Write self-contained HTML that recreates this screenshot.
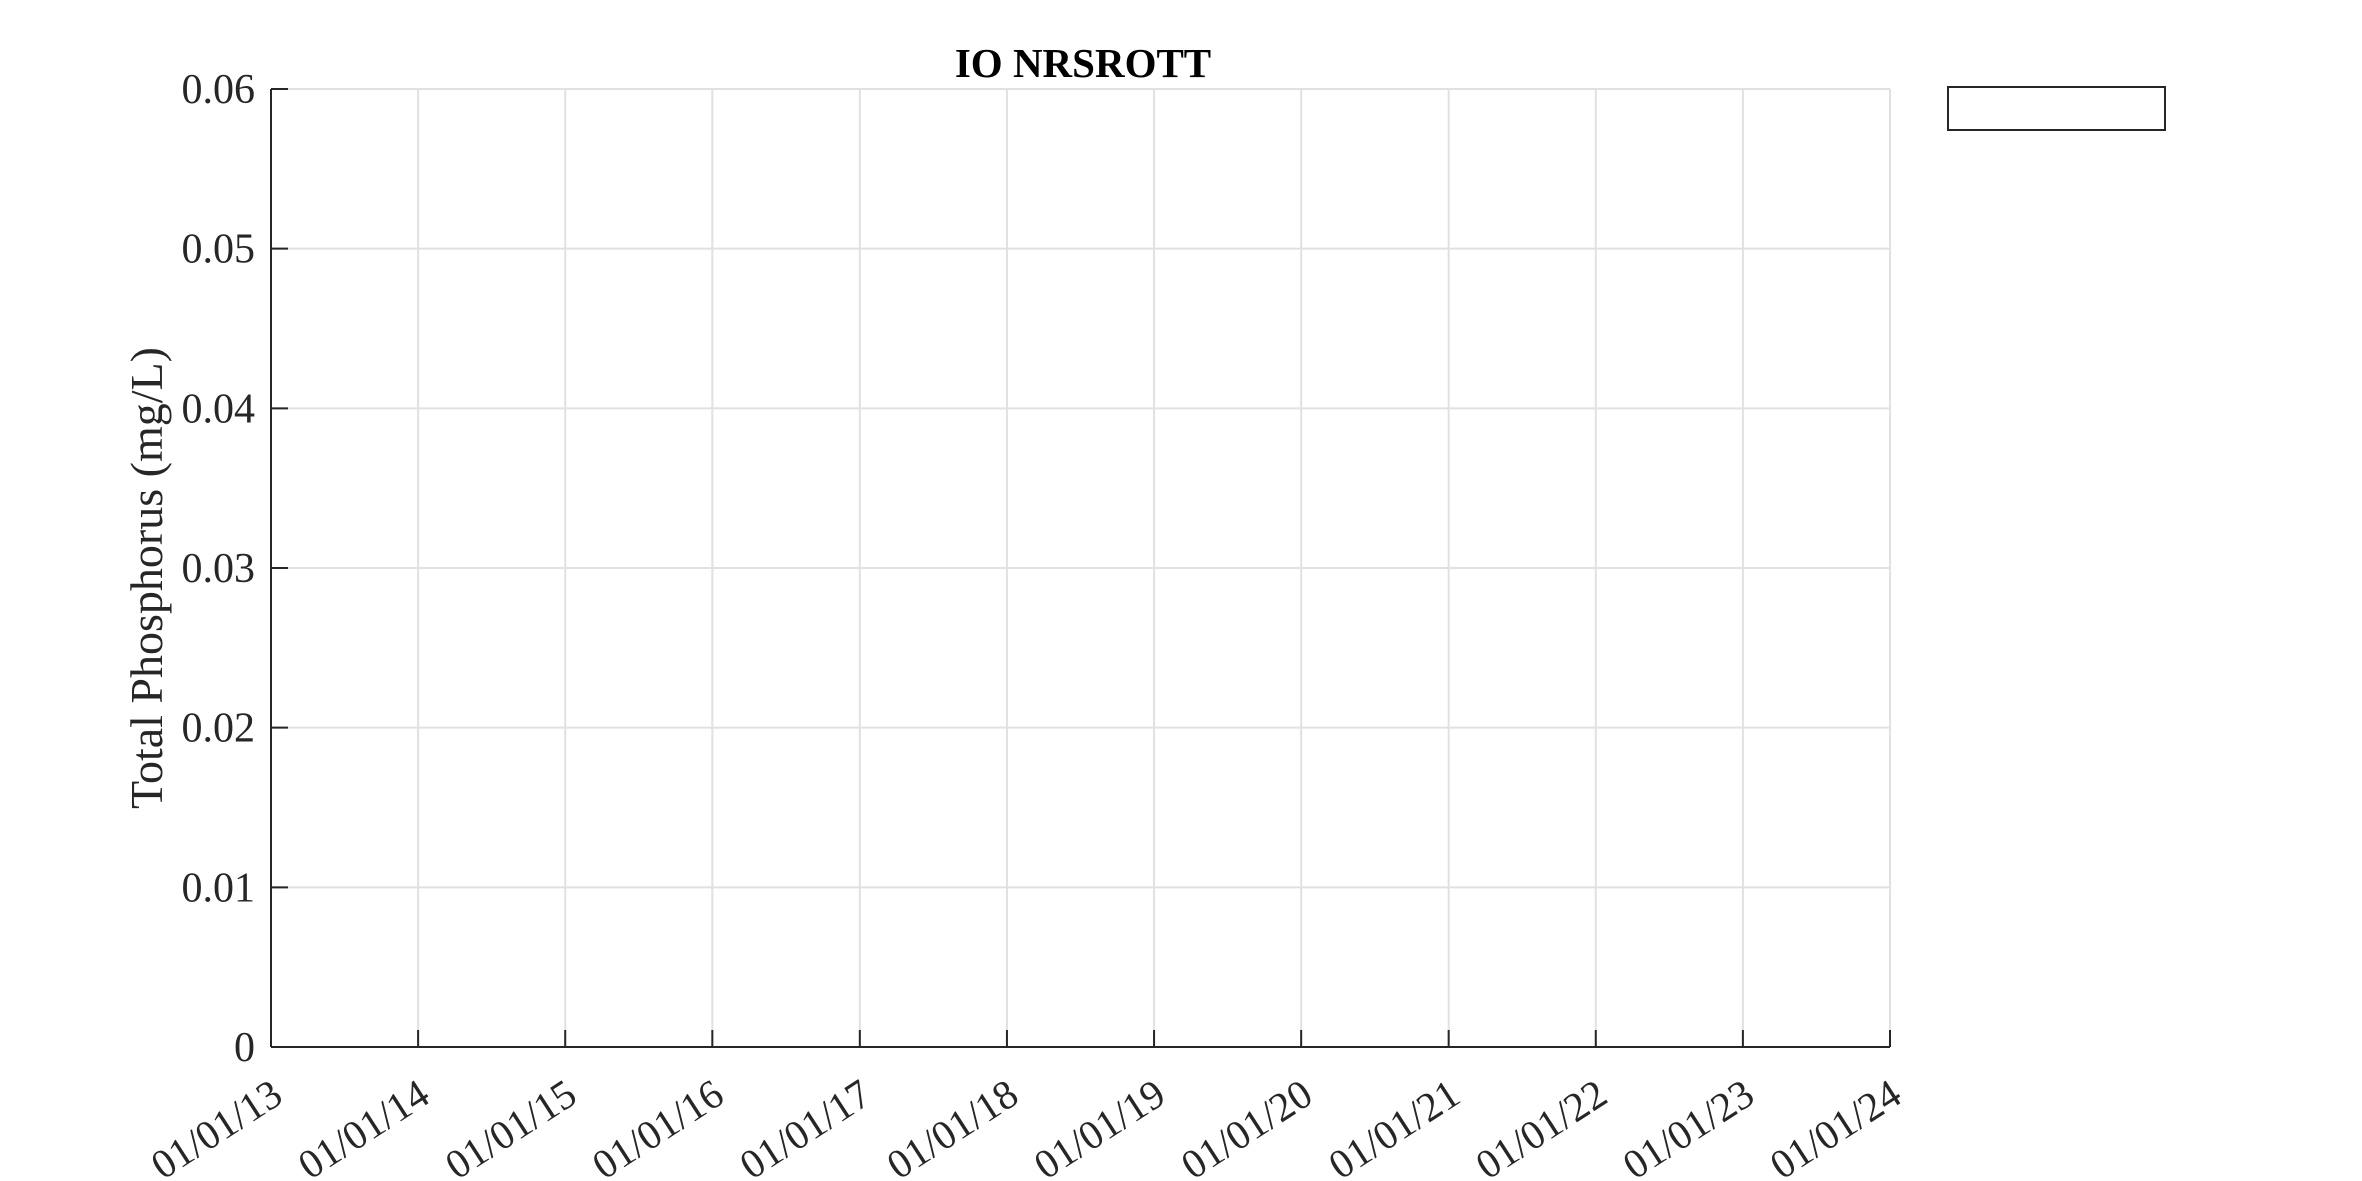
<!DOCTYPE html>
<html><head><meta charset="utf-8"><style>
html,body{margin:0;padding:0;background:#fff;}
svg{display:block;font-family:"Liberation Serif",serif;}
</style></head><body>
<svg id="chart" width="2362" height="1181" viewBox="0 0 2362 1181">
<text x="1083" y="77" text-anchor="middle" font-size="41" font-weight="bold" fill="#000">IO NRSROTT</text>
<text transform="translate(162,578) rotate(-90)" text-anchor="middle" font-size="46" fill="#262626">Total Phosphorus (mg/L)</text>
<g id="grid"></g>
<g id="axes"></g>
<rect x="1948" y="87" width="217" height="43" fill="#fff" stroke="#262626" stroke-width="2"/>
</svg>
<script>
const yTicks = [0, 0.01, 0.02, 0.03, 0.04, 0.05, 0.06];
const yTickLabels = ["0", "0.01", "0.02", "0.03", "0.04", "0.05", "0.06"];
const xTickYears = [2013, 2014, 2015, 2016, 2017, 2018, 2019, 2020, 2021, 2022, 2023, 2024];
const xTickLabels = ["01/01/13","01/01/14","01/01/15","01/01/16","01/01/17","01/01/18","01/01/19","01/01/20","01/01/21","01/01/22","01/01/23","01/01/24"];
const seriesDates = [];
const seriesValues = [];

const L = 271, R = 1890, T = 89, B = 1047;
const xMin = Date.UTC(2013,0,1), xMax = Date.UTC(2024,0,1);
const yMin = 0, yMax = 0.06;
function xs(t){ return L + (t - xMin) / (xMax - xMin) * (R - L); }
function ys(v){ return B - (v - yMin) / (yMax - yMin) * (B - T); }
const NS = "http://www.w3.org/2000/svg";
const grid = document.getElementById('grid');
const axes = document.getElementById('axes');
function mk(tag, attrs, parent){ const e = document.createElementNS(NS, tag); for (const k in attrs) e.setAttribute(k, attrs[k]); parent.appendChild(e); return e; }

yTicks.forEach((v, i) => {
  const y = ys(v);
  const g = mk('line', {x1:L, x2:R, y1:y, y2:y, stroke:'#e1e1e1', 'stroke-width':2}, grid);
  
  
  const t = mk('line', {x1:L, x2:L+17, y1:y, y2:y, stroke:'#262626', 'stroke-width':2}, axes);
  
  
  const lb = mk('text', {x:255, y:y+14, 'text-anchor':'end', 'font-size':42, fill:'#262626'}, axes);
  lb.textContent = yTickLabels[i];
  
  
});
xTickYears.forEach((yr, i) => {
  const x = xs(Date.UTC(yr,0,1));
  const g = mk('line', {x1:x, x2:x, y1:T, y2:B, stroke:'#e1e1e1', 'stroke-width':2}, grid);
  
  
  const t = mk('line', {x1:x, x2:x, y1:B, y2:B-17, stroke:'#262626', 'stroke-width':2}, axes);
  
  
  const lb = mk('text', {transform:'translate(' + (x+14) + ',1101) rotate(-33)', 'text-anchor':'end', 'font-size':41, fill:'#262626'}, axes);
  lb.textContent = xTickLabels[i];
  
  
});
const ya = mk('line', {x1:L, x2:L, y1:T, y2:B, stroke:'#262626', 'stroke-width':2}, axes);


const xa = mk('line', {x1:L, x2:R, y1:B, y2:B, stroke:'#262626', 'stroke-width':2}, axes);


seriesDates.forEach((d, i) => {
  const p = mk('circle', {cx:xs(d), cy:ys(seriesValues[i]), r:5, fill:'#0072bd'}, axes);
  
  
});
</script>
</body></html>
